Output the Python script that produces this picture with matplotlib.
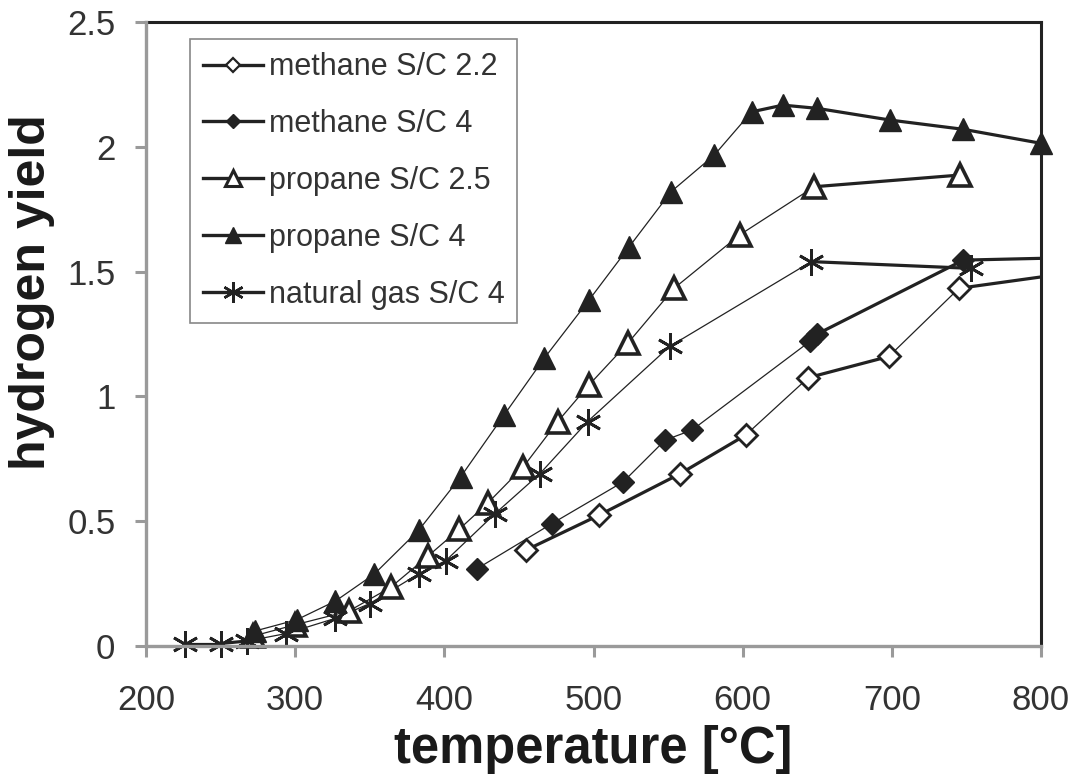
import matplotlib
matplotlib.use("Agg")
import matplotlib.pyplot as plt
from matplotlib.lines import Line2D
from matplotlib.ticker import FuncFormatter

plt.rcParams['font.family'] = ['Liberation Sans', 'DejaVu Sans']

# ---- data ----
methane22_T = [455, 504, 558, 602, 644, 698, 745, 850]
methane22_Y = [0.385, 0.525, 0.69, 0.845, 1.075, 1.16, 1.433, 1.52]

methane4_T = [422, 472, 520, 548, 566, 645, 650, 748, 850]
methane4_Y = [0.31, 0.49, 0.658, 0.825, 0.865, 1.22, 1.25, 1.546, 1.56]

propane25_T = [272, 300, 336, 364, 389, 410, 429, 453, 476, 497, 523, 554, 598, 648, 746]
propane25_Y = [0.04, 0.085, 0.14, 0.235, 0.36, 0.468, 0.572, 0.718, 0.899, 1.046, 1.213,
               1.433, 1.647, 1.84, 1.887]

propane4_T = [273, 301, 327, 353, 383, 411, 440, 467, 497, 524, 552, 581, 606, 627, 650,
              699, 748, 800]
propane4_Y = [0.06, 0.105, 0.18, 0.288, 0.465, 0.678, 0.925, 1.153, 1.386, 1.60, 1.82,
              1.967, 2.14, 2.167, 2.154, 2.107, 2.07, 2.014]

natgas_T = [226, 250, 268, 294, 327, 350, 383, 401, 434, 464, 496, 551, 646, 753]
natgas_Y = [0.01, 0.01, 0.02, 0.05, 0.111, 0.17, 0.29, 0.342, 0.53, 0.69, 0.899, 1.20,
            1.54, 1.513]

labels = ["methane S/C 2.2", "methane S/C 4", "propane S/C 2.5", "propane S/C 4",
          "natural gas S/C 4"]

x_ticks = [200, 300, 400, 500, 600, 700, 800]
y_ticks = [0, 0.5, 1, 1.5, 2, 2.5]

# ---- styles ----
THIN, THICK = 0.9, 2.3
INK = '#222222'
AX_GRAY = '#9a9a9a'

# per-segment line widths (style, kept separate from data)
seg_w = {
    0: [THICK, THICK, THICK, THIN, THICK, THIN, THICK],
    1: [THIN, THIN, THIN, THIN, THIN, THICK, THICK, THICK],
    2: [THIN] * 13 + [THICK],
    3: [THIN] * 12 + [THICK] * 5,
    4: [THICK, THICK] + [THIN] * 10 + [THICK],
}
ast = (6, 2, 0)
mk = [
    dict(marker='D', ms=11.5, mfc='white', mec=INK, mew=2.0),
    dict(marker='D', ms=11, mfc=INK, mec=INK, mew=1.0),
    dict(marker='^', ms=16, mfc='white', mec=INK, mew=2.6),
    dict(marker='^', ms=16, mfc=INK, mec=INK, mew=1.0),
    dict(marker=ast, ms=19, mfc=INK, mec=INK, mew=2.0),
]
series = [(methane22_T, methane22_Y), (methane4_T, methane4_Y),
          (propane25_T, propane25_Y), (propane4_T, propane4_Y), (natgas_T, natgas_Y)]

fig = plt.figure(figsize=(10.75, 7.8), dpi=100)
ax = fig.add_axes([146 / 1075, 1 - 646 / 780, (1041 - 146) / 1075, (646 - 22) / 780])

xmin, xmax = 200, 800
for i, (T, Y) in enumerate(series):
    for j in range(len(T) - 1):
        ax.plot(T[j:j + 2], Y[j:j + 2], color=INK, lw=seg_w[i][j],
                solid_capstyle='round', zorder=2)
    Tm = [t for t in T if xmin <= t <= xmax]
    Ym = [y for t, y in zip(T, Y) if xmin <= t <= xmax]
    ax.plot(Tm, Ym, ls='none', zorder=3, clip_on=False, **mk[i])

ax.set_xlim(xmin, xmax)
ax.set_ylim(0, 2.5)
ax.set_xticks(x_ticks)
ax.set_yticks(y_ticks)
ax.yaxis.set_major_formatter(FuncFormatter(lambda v, p: f"{v:g}"))

for s in ['left', 'bottom']:
    ax.spines[s].set_color(AX_GRAY)
    ax.spines[s].set_linewidth(2.4)
    ax.spines[s].set_zorder(4)
for s in ['top', 'right']:
    ax.spines[s].set_color(INK)
    ax.spines[s].set_linewidth(2.2)

ax.tick_params(axis='both', which='major', direction='out', length=8, width=2.2,
               color=AX_GRAY, labelsize=25, labelcolor='#333333')
ax.tick_params(axis='y', pad=14)
ax.tick_params(axis='x', pad=19)

ax.set_xlabel("temperature [°C]", fontsize=36.5, fontweight='bold', color='#1a1a1a',
              labelpad=6)
ax.set_ylabel("hydrogen yield", fontsize=36, fontweight='bold', color='#1a1a1a')
ax.yaxis.set_label_coords(-0.102, 0.567)

handles = []
hk = [
    dict(marker='D', ms=7.5, mfc='white', mec=INK, mew=1.6),
    dict(marker='D', ms=7.5, mfc=INK, mec=INK, mew=1.0),
    dict(marker='^', ms=12, mfc='white', mec=INK, mew=2.2),
    dict(marker='^', ms=12, mfc=INK, mec=INK, mew=1.0),
    dict(marker=ast, ms=15, mfc=INK, mec=INK, mew=1.8),
]
for i in range(5):
    handles.append(Line2D([0], [0], color=INK, lw=2.4, **hk[i]))
leg = ax.legend(handles, labels, loc='upper left', bbox_to_anchor=(0.049, 0.972),
                fontsize=22, frameon=True, fancybox=False, framealpha=1,
                edgecolor='#888888', handlelength=1.96, handletextpad=0.2,
                labelspacing=0.88, borderpad=0.42, borderaxespad=0)
leg.get_frame().set_linewidth(1.2)
for t in leg.get_texts():
    t.set_color('#333333')

fig.savefig("out.png", dpi=100, facecolor='white')
